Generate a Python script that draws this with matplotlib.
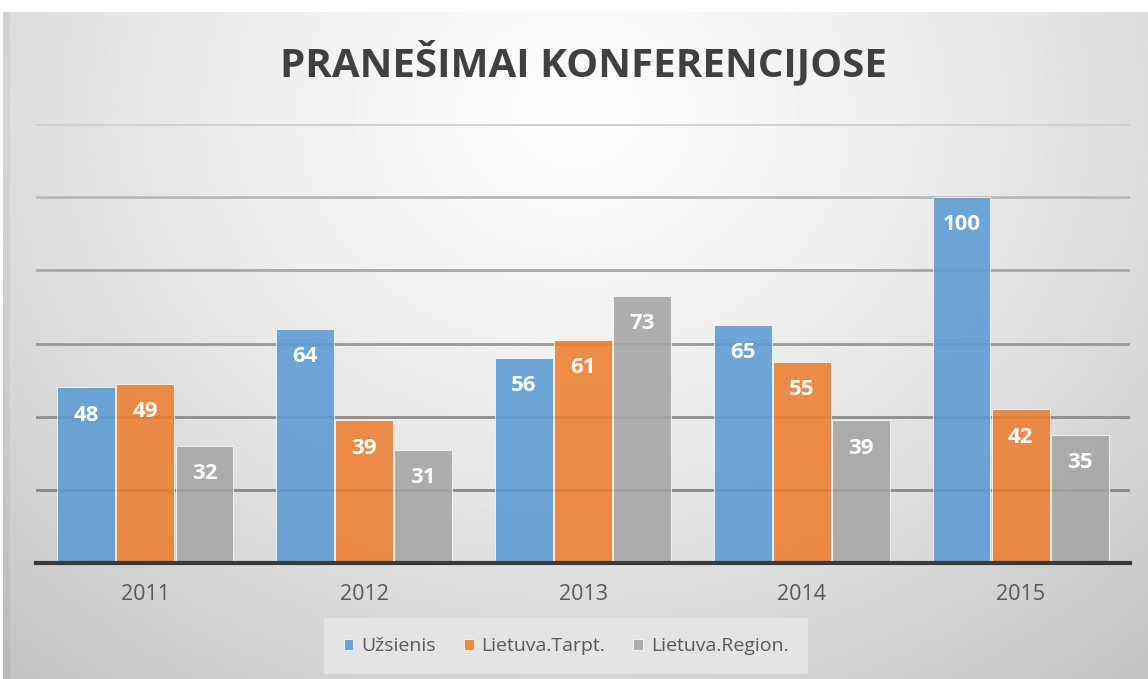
import numpy as np
import matplotlib
matplotlib.use("Agg")
import matplotlib.pyplot as plt

years = ["2011", "2012", "2013", "2014", "2015"]
series_names = ["Užsienis", "Lietuva.Tarpt.", "Lietuva.Region."]
uzsienis = [48, 64, 56, 65, 100]
tarpt = [49, 39, 61, 55, 42]
region = [32, 31, 73, 39, 35]
colors = ["#5B9BD5", "#ED7D31", "#A5A5A5"]

plt.rcParams['font.family'] = ['Open Sans', 'DejaVu Sans']

fig = plt.figure(figsize=(11.48, 6.79), dpi=100)
fig.patch.set_facecolor("white")

# radial gradient background
bg = fig.add_axes([3 / 1148, 0, 1 - 3 / 1148, 667 / 679])
yy, xx = np.mgrid[0:1:300j, 0:1:500j]
r = np.sqrt(((xx - 0.5) / 0.75) ** 2 + ((yy - 0.15) / 1.1) ** 2)
shade = 0.99 - 0.22 * np.clip(r, 0, 1) ** 1.4
shade[:, :3] -= 0.04
bg.imshow(shade, cmap="gray", vmin=0, vmax=1, aspect="auto", extent=[0, 1, 1, 0])
bg.axis("off")

ax = fig.add_axes([36 / 1148, 116 / 679, 1094 / 1148, 439 / 679])
ax.patch.set_alpha(0)

x = np.arange(len(years))
w = 0.27
data = [uzsienis, tarpt, region]
for i, (vals, c, name) in enumerate(zip(data, colors, series_names)):
    bars = ax.bar(x + (i - 1) * w, vals, width=w * 0.98, color=c, alpha=0.88,
                  edgecolor="white", linewidth=0.6, label=name, zorder=3)
    for b, v in zip(bars, vals):
        ax.annotate(str(v), (b.get_x() + b.get_width() / 2, v), xytext=(0, -20),
                    textcoords="offset points", ha="center", va="center",
                    color="white", fontsize=16, fontweight="bold", zorder=4)

ax.set_xlim(-0.5, 4.5)
ax.set_ylim(0, 120)
# gridlines fade toward the top like the original
for gv in np.arange(20, 121, 20):
    g = 0.53 + 0.28 * ((gv - 20) / 100) ** 1.6
    ax.axhline(gv, color=(g, g, g), linewidth=2, zorder=1)
ax.set_yticks([])
ax.set_xticks(x)
ax.set_xticklabels(years, fontsize=15.5, color="#595959")
ax.tick_params(axis="x", length=0, pad=15)
for s in ["top", "right", "left"]:
    ax.spines[s].set_visible(False)
ax.spines["bottom"].set_color("#3a3a3a")
ax.spines["bottom"].set_linewidth(3)
ax.spines["bottom"].set_zorder(5)

fig.text(583 / 1148, 1 - 62 / 679, "PRANEŠIMAI KONFERENCIJOSE", ha="center", va="center",
         fontsize=29, fontweight="bold", color="#404040")

leg = fig.legend(loc="center", bbox_to_anchor=(566 / 1148, 1 - 646 / 679), ncol=3,
                 frameon=True, fontsize=14, handlelength=0.5, handleheight=0.5,
                 handletextpad=0.4, columnspacing=1.45, labelcolor="#595959",
                 borderpad=0.0)
leg.get_frame().set_facecolor("#e4e4e4")
leg.get_frame().set_edgecolor("none")
leg.get_frame().set_alpha(1)
leg.get_frame().set_boxstyle("square", pad=1.0)

fig.savefig("out.png", dpi=100)
